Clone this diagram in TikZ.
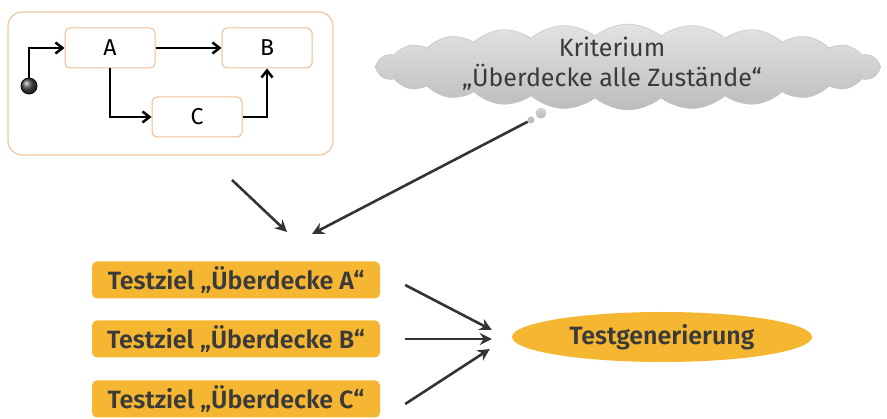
\documentclass[tikz,border=0pt]{standalone}
\usepackage{fontspec}
\setmainfont{Fira Sans}[BoldFont={Fira Sans SemiBold}]
\usetikzlibrary{shapes.symbols,shapes.geometric,arrows.meta,shadows}
\definecolor{txtgray}{HTML}{3A3A3A}
\definecolor{orfill}{HTML}{F5B731}
\definecolor{peach}{HTML}{EDBE96}
\tikzset{
  state/.style={draw=peach, line width=1pt, fill=white, rounded corners=5pt, minimum width=90pt, minimum height=40pt, font=\fontsize{23}{26}\selectfont, text=black},
  arr/.style={draw=black, line width=2.5pt, -{Straight Barb[length=7pt,width=11pt,line width=2.5pt]}},
  bigarr/.style={draw=txtgray!90!black, line width=2.6pt, -{Stealth[length=12pt,width=12pt]}},
  goal/.style={fill=orfill, rounded corners=5pt, minimum width=288pt, minimum height=37pt, font=\bfseries\fontsize{25}{28}\selectfont, text=txtgray, inner sep=0pt},
}
\begin{document}
\begin{tikzpicture}[x=1pt,y=1pt]
\useasboundingbox (0,0) rectangle (887,-419);
% system box
\node[draw=peach!85, line width=1.3pt, fill=white, rounded corners=14pt, minimum width=325pt, minimum height=143pt] (sys) at (170.5,-83.5) {};
\node[state] (A) at (110,-48) {A};
\node[state] (B) at (267,-48) {B};
\node[state] (C) at (197,-117) {C};
\node[circle, draw=black, line width=0.8pt, ball color=gray!60!black, minimum size=16pt, inner sep=0pt] (init) at (29,-86) {};
\draw[arr] (init.north) |- (A.west);
\draw[arr] (A.east) -- (B.west);
\draw[arr] (A.south) |- (C.west);
\draw[arr] (C.east) -| (B.south);
% cloud
\node[cloud, cloud puffs=24, cloud puff arc=80, aspect=6, minimum width=505pt, minimum height=86pt, draw=gray!50, top color=gray!22, bottom color=gray!52, inner sep=0pt] (crit) at (628,-67) {};
\node[align=center, text=txtgray, font=\fontsize{25}{30}\selectfont] (crittxt) at (612,-64) {Kriterium\\„Überdecke alle Zustände“};
\node[circle, top color=gray!30, bottom color=gray!55, minimum size=11pt, inner sep=0pt] (b1) at (541,-113) {};
\node[circle, fill=gray!50, minimum size=7pt, inner sep=0pt] (b2) at (531,-120) {};
% arrows to goals
\coordinate (s1) at (232,-180);
\coordinate (t1) at (287,-232);
\coordinate (t2) at (312,-234);
\draw[bigarr] (s1) -- (t1);
\draw[bigarr] (b2) -- (t2);
% goals
\node[goal] (TA) at (236,-280) {Testziel „Überdecke A“};
\node[goal] (TB) at (236,-339) {Testziel „Überdecke B“};
\node[goal] (TC) at (236,-399) {Testziel „Überdecke C“};
\node[ellipse, fill=orfill, minimum width=300pt, minimum height=50pt, inner sep=0pt, font=\bfseries\fontsize{25}{28}\selectfont, text=txtgray] (G) at (662,-337) {Testgenerierung};
\draw[bigarr] ([xshift=25pt,yshift=-5pt]TA.east) -- ([xshift=-20pt,yshift=7pt]G.west);
\draw[bigarr] ([xshift=25pt]TB.east) -- ([xshift=-20pt,yshift=-2pt]G.west);
\draw[bigarr] ([xshift=25pt,yshift=-5pt]TC.east) -- ([xshift=-22pt,yshift=-12pt]G.west);
\end{tikzpicture}
\end{document}
